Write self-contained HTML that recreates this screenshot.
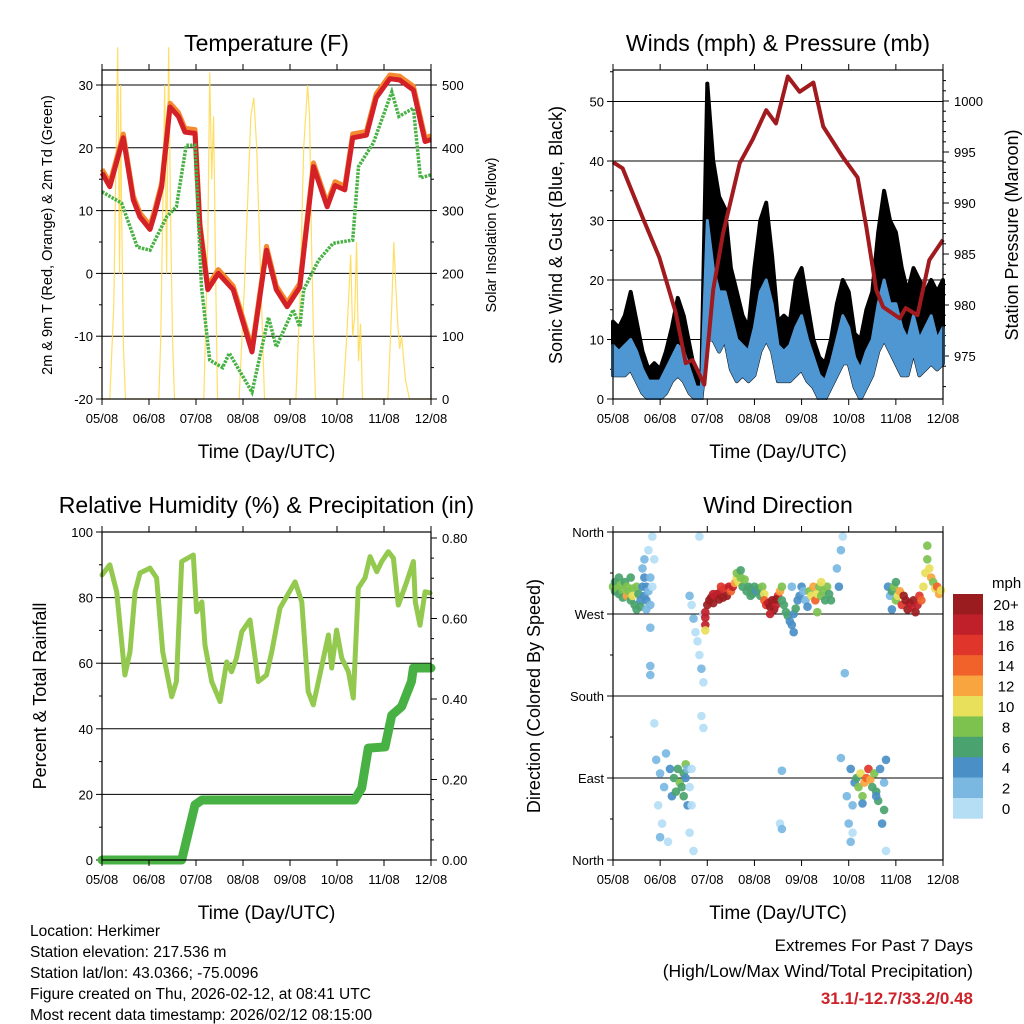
<!DOCTYPE html>
<html><head><meta charset="utf-8"><style>
html,body{margin:0;padding:0;background:#fff;}
svg{display:block;font-family:"Liberation Sans",Arial,sans-serif;}
</style></head><body>
<svg id="chart" width="1024" height="1024" viewBox="0 0 1024 1024" xmlns="http://www.w3.org/2000/svg">
<rect width="1024" height="1024" fill="#fff"/>
<g id="p1"></g>
<g id="p2"></g>
<g id="p3"></g>
<g id="p4"></g>
<g font-size="15.5" fill="#000">
<text x="30" y="936">Location: Herkimer</text>
<text x="30" y="957">Station elevation: 217.536 m</text>
<text x="30" y="978">Station lat/lon: 43.0366; -75.0096</text>
<text x="30" y="999">Figure created on Thu, 2026-02-12, at 08:41 UTC</text>
<text x="30" y="1020">Most recent data timestamp: 2026/02/12 08:15:00</text>
</g>
<g text-anchor="end">
<text x="973" y="951" font-size="17">Extremes For Past 7 Days</text>
<text x="973" y="977" font-size="17.5">(High/Low/Max Wind/Total Precipitation)</text>
<text x="973" y="1004" font-size="17" font-weight="bold" fill="#cc2229">31.1/-12.7/33.2/0.48</text>
</g>
</svg>
<script>
// ---------- DATA ----------
const dayLabels = ["05/08","06/08","07/08","08/08","09/08","10/08","11/08","12/08"];
// temperature (F)
const tempHours = [0,4,10.9,16,19.4,24.5,27,30.5,34.7,39,42.4,47.5,50,54,59.4,67,76.6,84,89,94.5,101,108,115,119,124,128,135,140,147,152,159,165,168];
const tempVals  = [16,13.8,21.6,11.7,9,7,9.6,13.8,26.5,25,22.5,22.3,7.4,-2.6,0,-2.6,-12.5,3.7,-2.6,-5.3,-2.2,17,10.6,14,13.3,21.6,22,28,31,30.8,29.2,21,21.3];
const dewHours = [0,10,18,24.5,33,38,43,47.5,50.8,55,61.6,65,76.6,85,89,97.6,101,103,110.6,118,128,131,138.6,148,151.6,159,162.6,168];
const dewVals  = [13,11.2,4.2,3.7,9,10.6,20.4,20.4,-2.2,-13.8,-15,-12.7,-18.9,-7,-11.7,-5.8,-8.5,-2.6,2.1,4.8,5.3,17,20.8,28.9,25,26.3,15.2,15.7];
const solarHours = [0,4,6,7,8,9,9.5,10,11,12,29,30,31,32,33,34,35,36,37,52,54,55,56,57,58,59,70,73,76,77.5,79,81,83,99,101,103,105,106,107,108,109,123,125,127,128,129,130,131,132,133,146,148,149,150,151,152,153,155,157,168];
const solarVals  = [0,0,150,350,560,200,500,300,80,0,0,100,300,500,200,560,300,100,0,0,250,520,350,450,200,0,0,200,450,480,400,200,0,0,150,400,500,450,250,100,0,0,100,230,100,130,250,60,120,0,0,150,250,180,120,80,100,30,0,0];
// winds (mph) & pressure (mb), 3-hourly
const windHours = [0,3,6,9,12,15,18,21,24,27,30,33,36,39,42,45,48,51,54,57,60,63,66,69,72,75,78,81,84,87,90,93,96,99,102,105,108,111,114,117,120,123,126,129,132,135,138,141,144,147,150,153,156,159,162,165,168];
const windLo = [4,4,4,5,3,1,0,0,0,1,3,4,3,1,0,0,10,10,8,10,5,3,4,3,4,8,10,8,3,3,3,4,5,3,2,0,0,2,4,6,6,2,0,2,4,8,10,8,6,4,4,8,4,5,6,5,6];
const windHi = [9,8,9,10,8,5,3,3,3,5,7,9,8,5,2,2,30,22,18,18,14,10,9,8,12,18,20,16,9,8,9,12,14,10,7,4,3,6,10,14,12,7,5,8,10,16,20,16,16,12,10,14,10,12,14,10,12];
const gustHi = [13,12,14,18,13,8,5,6,5,8,12,17,14,9,4,4,53,40,34,32,22,18,14,12,22,30,33,24,13,14,13,20,22,16,10,7,6,10,16,20,18,11,10,15,18,28,35,30,28,22,18,22,20,18,20,18,20];
const presHours = [0,4.9,15,23.5,32,37,40.5,46.5,51,56,64.5,71,78,83,89,95,102,107,117,124.5,129,134,137.5,146,149,155,161,168];
const presVals  = [994,993.4,988.6,984.7,979.2,974.3,974.6,972.2,981.5,987,993.9,996.2,999.1,997.8,1002.4,1000.9,1001.8,997.5,994.5,992.5,987.6,981.5,979.8,978.7,979.7,979,984.4,986.4];
// humidity (%) & precipitation (in)
const rhHours = [0,4,7.5,11.7,14.3,16.9,19.4,24.5,27.9,31,35.6,38,40.7,46.6,48.3,51,52.6,56,60.3,63.7,66.2,68.7,71.4,75.6,79.8,84,86.7,90.9,98.6,102,105.3,107.9,110.5,115.6,117.3,119.8,122.4,125.8,128.3,130.9,134.3,136.9,140.3,142.8,146.2,148.8,151.3,155.6,159,160,162.4,165,167.5];
const rhVals  = [86.9,90,81.8,56.4,63.5,81.8,87.5,89,86,63.5,49.8,54.4,91,93,75.7,78.7,65.5,54.4,48.3,60.4,57.4,61.6,69.6,73.2,54.4,56.4,63.5,76.8,84.8,78.7,51.3,47.3,54.4,68.6,58.5,70.1,61.6,57.4,49.4,82.9,86,92.5,87.9,91,94,92,77.7,84.8,91,78.7,71.6,81.8,81.4];
const prHours = [0,40.7,47.5,51,129,132.6,136,144.5,148,153,158,159,168];
const prVals  = [0,0,0.137,0.149,0.149,0.179,0.278,0.281,0.36,0.381,0.443,0.477,0.477];
// wind direction (deg) colored by speed (mph)
const dirHours = [0,1,1,2,3,3,4,5,5,6,7,7,8,9,9,10,10,11,12,12,13,14,14,
15,15,16,16,16,17,17,18,18,19,19,20,20,19,19,19,21,17,
21,22,23,24,25,26,28,29,30,31,32,33,34,35,36,36,37,37,38,38,39,39,40,40,41,27,24,
39,40,41,42,43,44,45,46,46,45,46,44,47,47,47,
47,48,49,50,51,52,53,54,55,56,57,58,59,60,61,62,63,55,51,
63,64,65,66,67,68,69,70,71,72,73,74,75,76,77,65,70,
77,78,79,80,81,82,83,84,85,86,80,83,
86,87,88,89,90,91,92,93,94,95,96,97,98,99,92,91,
100,101,102,103,104,105,106,107,108,109,110,111,104,106,
114,115,116,117,118,116,119,120,121,121,122,122,123,124,125,126,127,128,129,130,131,132,133,134,135,136,137,138,139,139,134,127,138,86,85,86,
140,141,142,143,144,145,146,147,148,149,150,151,152,153,154,155,156,157,158,159,160,160,161,162,163,164,165,166,167,142,144];
const dirDeg = [300,295,305,298,310,292,302,296,288,305,300,290,295,285,310,298,290,280,275,300,292,285,278,
300,320,290,310,330,285,300,295,340,280,310,300,355,255,213,203,330,275,
150,110,60,95,40,80,20,100,70,90,75,100,85,80,95,70,105,90,60,100,80,30,100,60,10,117,25,
290,280,265,250,240,225,210,195,270,158,145,355,266,258,252,
272,280,285,288,282,290,292,286,295,288,298,290,300,295,300,304,310,300,292,
315,305,310,300,308,295,300,298,292,300,295,298,290,300,292,318,290,
285,280,282,278,285,275,280,290,295,300,270,286,
285,280,272,268,262,258,270,276,285,290,300,295,285,278,250,300,
295,290,300,285,292,300,290,295,285,300,292,285,272,305,
320,300,340,355,205,112,70,40,100,20,60,30,85,90,80,95,70,85,90,100,88,80,95,75,65,100,40,85,110,10,70,62,55,98,40,34,
300,290,295,300,285,290,295,280,290,285,275,282,278,285,272,280,290,285,300,315,330,345,320,310,305,298,300,292,296,275,305];
const dirSpd = [8,7,6,8,6,7,8,9,6,7,8,12,9,7,6,8,10,7,6,8,7,4,6,
4,3,4,4,2,4,5,3,1,2,2,1,0,3,3,3,1,2,
0,2,1,3,1,3,1,4,5,6,7,7,8,6,7,6,8,4,4,3,1,0,1,1,0,3,2,
2,1,2,1,1,1,2,1,1,1,1,0,18,18,10,
18,20,20,20,20,18,20,20,18,20,16,20,18,14,18,12,10,16,18,
8,10,8,6,8,6,6,6,6,6,4,6,6,8,10,6,6,
14,16,18,20,20,20,18,16,12,8,18,20,
6,6,6,6,4,4,4,6,4,4,4,2,3,4,4,3,
8,10,12,14,10,8,8,8,6,8,6,6,8,10,
2,4,2,1,2,2,2,2,4,3,2,1,4,6,8,10,8,12,14,16,12,6,8,6,6,4,4,3,4,1,4,4,6,3,1,3,
4,2,6,8,8,10,12,16,20,20,20,20,18,20,20,18,16,14,10,10,8,8,10,12,8,10,14,12,10,4,6];
const spdColors = ["#b5def5","#7ab8e2","#4a8fc6","#4aa36e","#7dc24f","#e8e05a","#f8a540","#f06229","#e0352b","#c0202a","#9b1c1f"];
const spdLabels = ["0","2","4","6","8","10","12","14","16","18","20+"];

// ---------- HELPERS ----------
const NS="http://www.w3.org/2000/svg";
function mk(parent,tag,attrs){const e=document.createElementNS(NS,tag);for(const k in attrs)e.setAttribute(k,attrs[k]);parent.appendChild(e);return e;}
function txt(parent,x,y,s,size,anchor,extra){const t=mk(parent,"text",Object.assign({x:x,y:y,"font-size":size,"text-anchor":anchor||"start"},extra||{}));t.textContent=s;return t;}
function xScale(L,R){return h=>L+(R-L)*h/168;}
function lin(d0,d1,r0,r1){return v=>r0+(v-d0)*(r1-r0)/(d1-d0);}
function pts(hs,vs,xs,ys){return hs.map((h,i)=>xs(h).toFixed(1)+","+ys(vs[i]).toFixed(1)).join(" ");}

function frame(g,L,T,R,B,title,xs){
  const t=txt(g,(L+R)/2,T-19,title,23,"middle");
  
  
  const fr=mk(g,"rect",{x:L,y:T,width:R-L,height:B-T,fill:"none",stroke:"#000","stroke-width":1.2});
  
  
  for(let d=0;d<=7;d++){
    const x=xs(d*24);
    mk(g,"line",{x1:x,y1:B,x2:x,y2:B+6,stroke:"#000"});
    mk(g,"line",{x1:x,y1:T,x2:x,y2:T-6,stroke:"#000"});
    const l=txt(g,x,B+24,dayLabels[d],13,"middle");
    
    
  }
  const xt=txt(g,(L+R)/2,B+59,"Time (Day/UTC)",19,"middle");
  
  
}
function leftAxis(g,L,R,ticks,labels,ys,grid,minor){
  ticks.forEach((v,i)=>{
    const y=ys(v);
    if(grid) mk(g,"line",{x1:L,y1:y,x2:R,y2:y,stroke:"#000","stroke-width":1});
    mk(g,"line",{x1:L-6,y1:y,x2:L,y2:y,stroke:"#000"});
    const l=txt(g,L-9,y+5,labels[i],13,"end");
    
    
  });
  (minor||[]).forEach(v=>{const y=ys(v);mk(g,"line",{x1:L-3,y1:y,x2:L,y2:y,stroke:"#000"});});
}
function rightAxis(g,R,ticks,labels,ys,minor){
  ticks.forEach((v,i)=>{
    const y=ys(v);
    mk(g,"line",{x1:R,y1:y,x2:R+6,y2:y,stroke:"#000"});
    const l=txt(g,R+11,y+5,labels[i],13,"start");
    
    
  });
  (minor||[]).forEach(v=>{const y=ys(v);mk(g,"line",{x1:R,y1:y,x2:R+3,y2:y,stroke:"#000"});});
}
function vtitle(g,x,y,s,size,name){
  const t=txt(g,x,y,s,size,"middle",{transform:"rotate(-90 "+x+" "+y+")"});
  
  
}

// ---------- PANEL 1: TEMPERATURE ----------
(function(){
  const g=document.getElementById("p1");
  const L=102,R=431,T=70,B=399;
  const xs=xScale(L,R), ys=lin(-20,30,399,85), ysol=lin(0,500,399,85);
  const tk=[-20,-10,0,10,20,30];
  leftAxis(g,L,R,tk,tk.map(String),ys,true,[-15,-5,5,15,25]);
  mk(g,"line",{x1:L,y1:ys(-20),x2:R,y2:ys(-20),stroke:"#000"});
  const st=[0,100,200,300,400,500];
  rightAxis(g,R,st,st.map(String),ysol,[50,150,250,350,450]);
  const sol=mk(g,"polyline",{points:pts(solarHours,solarVals,xs,ysol),fill:"none",stroke:"#ffd84a","stroke-width":1.2,opacity:0.85});
  
  
  const or=mk(g,"polyline",{points:pts(tempHours,tempVals.map(v=>v+0.6),xs,ys),fill:"none",stroke:"#f58a30","stroke-width":5,"stroke-linejoin":"round"});
  
  
  const rd=mk(g,"polyline",{points:pts(tempHours,tempVals,xs,ys),fill:"none",stroke:"#d42027","stroke-width":5,"stroke-linejoin":"round"});
  
  
  const gr=mk(g,"polyline",{points:pts(dewHours,dewVals,xs,ys),fill:"none",stroke:"#47b243","stroke-width":3.5,"stroke-dasharray":"2.5 1.2"});
  
  
  frame(g,L,T,R,B,"Temperature (F)",xs);
  vtitle(g,52,235,"2m & 9m T (Red, Orange) & 2m Td (Green)",14.5,"y-axis-title");
  vtitle(g,496,235,"Solar Insolation (Yellow)",14.5,"right-axis-title");
})();

// ---------- PANEL 2: WINDS & PRESSURE ----------
(function(){
  const g=document.getElementById("p2");
  const L=613,R=943,T=70,B=399;
  const xs=xScale(L,R), ys=lin(0,50,399,101.5), yp=lin(975,1000,356,101);
  const tk=[0,10,20,30,40,50];
  leftAxis(g,L,R,tk,tk.map(String),ys,true,[5,15,25,35,45,55]);
  const pt=[975,980,985,990,995,1000];
  rightAxis(g,R,pt,pt.map(String),yp,[972,974,976,977,978,979,981,982,983,984,986,987,988,989,991,992,993,994,996,997,998,999,1001,1002]);
  const up=windHours.map((h,i)=>xs(h).toFixed(1)+","+ys(gustHi[i]).toFixed(1));
  const dn=windHours.map((h,i)=>xs(h).toFixed(1)+","+ys(windLo[i]).toFixed(1)).reverse();
  const gust=mk(g,"polygon",{points:up.concat(dn).join(" "),fill:"#000",stroke:"#000","stroke-width":4,"stroke-linejoin":"round"});
  
  
  const up2=windHours.map((h,i)=>xs(h).toFixed(1)+","+ys(windHi[i]).toFixed(1));
  const dn2=windHours.map((h,i)=>xs(h).toFixed(1)+","+ys(windLo[i]).toFixed(1)).reverse();
  const wind=mk(g,"polygon",{points:up2.concat(dn2).join(" "),fill:"#4f97d3",stroke:"#4f97d3","stroke-width":3,"stroke-linejoin":"round"});
  
  
  const pr=mk(g,"polyline",{points:pts(presHours,presVals,xs,yp),fill:"none",stroke:"#a01a1e","stroke-width":4,"stroke-linejoin":"round"});
  
  
  mk(g,"rect",{x:L-2,y:B+1,width:R-L+4,height:8,fill:"#fff"});
  frame(g,L,T,R,B,"Winds (mph) & Pressure (mb)",xs);
  vtitle(g,562,235,"Sonic Wind & Gust (Blue, Black)",18,"y-axis-title");
  vtitle(g,1018,235,"Station Pressure (Maroon)",18,"right-axis-title");
})();

// ---------- PANEL 3: RH & PRECIP ----------
(function(){
  const g=document.getElementById("p3");
  const L=102,R=431,T=532,B=860;
  const xs=xScale(L,R), ys=lin(0,100,860,532), yp=lin(0,0.8,860,538);
  leftAxis(g,L,R,[20,40,60,80],["20","40","60","80"],ys,true,[10,30,50,70,90]);
  leftAxis(g,L,R,[0,100],["0","100"],ys,false);
  const pt=[0,0.2,0.4,0.6,0.8];
  rightAxis(g,R,pt,["0.00","0.20","0.40","0.60","0.80"],yp,[0.05,0.1,0.15,0.25,0.3,0.35,0.45,0.5,0.55,0.65,0.7,0.75]);
  const rh=mk(g,"polyline",{points:pts(rhHours,rhVals,xs,ys),fill:"none",stroke:"#93c94f","stroke-width":5,"stroke-linejoin":"round","stroke-linecap":"round"});
  
  
  const pr=mk(g,"polyline",{points:pts(prHours,prVals,xs,yp),fill:"none",stroke:"#47b243","stroke-width":9,"stroke-linejoin":"round","stroke-linecap":"round"});
  
  
  frame(g,L,T,R,B,"Relative Humidity (%) & Precipitation (in)",xs);
  vtitle(g,46,696,"Percent & Total Rainfall",18,"y-axis-title");
})();

// ---------- PANEL 4: WIND DIRECTION ----------
(function(){
  const g=document.getElementById("p4");
  const L=613,R=943,T=532,B=860;
  const xs=xScale(L,R), ys=lin(0,360,860,532);
  leftAxis(g,L,R,[90,180,270],["East","South","West"],ys,true,[45,135,225,315]);
  leftAxis(g,L,R,[0,360],["North","North"],ys,false);
  dirHours.forEach((h,i)=>{
    const ci=Math.min(10,Math.floor(dirSpd[i]/2));
    const c=mk(g,"circle",{cx:xs(h).toFixed(1),cy:ys(dirDeg[i]).toFixed(1),r:4.3,fill:spdColors[ci],opacity:0.92});
    
    
  });
  frame(g,L,T,R,B,"Wind Direction",xs);
  vtitle(g,540,696,"Direction (Colored By Speed)",18,"y-axis-title");
  // colorbar
  const cb=mk(g,"g",{});
  
  
  const bx=953,by=594,bh=20.4;
  const u=txt(cb,992,588,"mph",15,"start");
  
  
  spdColors.forEach((col,i)=>{
    const k=10-i;
    const r=mk(cb,"rect",{x:bx,y:by+i*bh,width:30,height:bh+0.3,fill:spdColors[k]});
    
    
    const l=txt(cb,1006,by+i*bh+16,spdLabels[k],15,"middle");
    
    
  });
})();
</script>
</body></html>
